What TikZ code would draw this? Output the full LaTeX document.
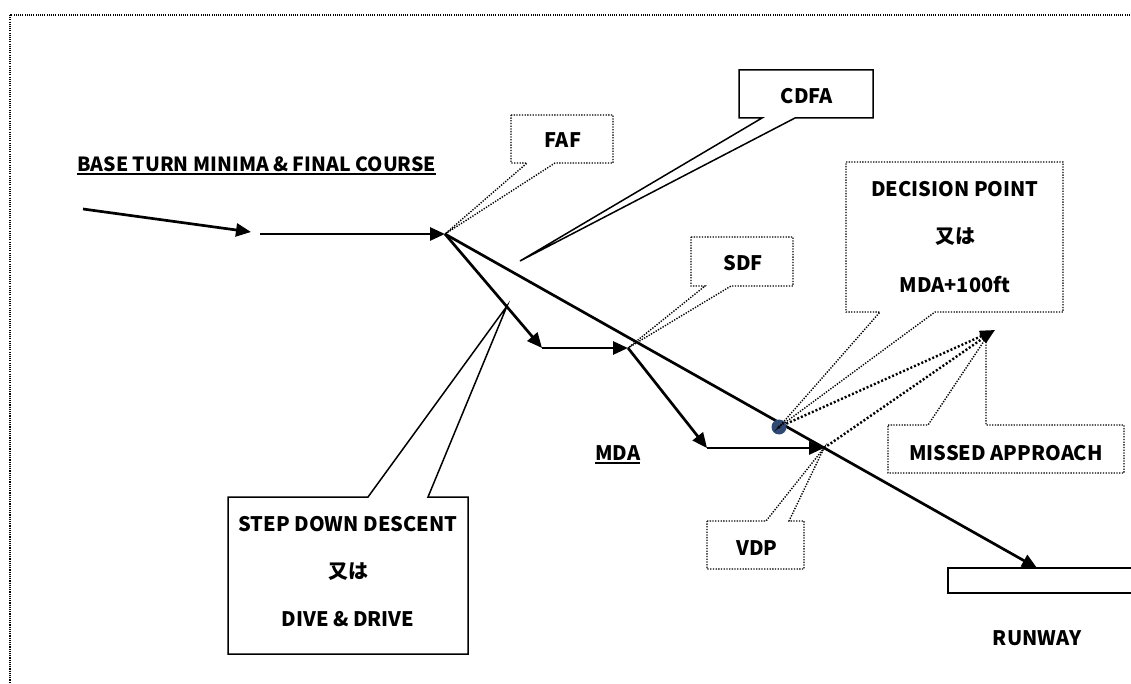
\documentclass[tikz,border=0pt]{standalone}
\usepackage{fontspec}
\setmainfont{Noto Sans CJK JP}
\usetikzlibrary{arrows.meta}
\definecolor{dpblue}{HTML}{2E4A74}

\tikzset{
  lbl/.style={font=\fontsize{20}{24}\selectfont\bfseries, inner sep=0pt},
  track/.style={line width=2.7pt, -{Triangle[length=15pt,width=13pt]}},
  missed/.style={line width=2.4pt, dash pattern=on 2pt off 2pt, -{Triangle[length=15pt,width=11pt]}},
  tag/.style={line width=1.4pt, dash pattern=on 1.3pt off 1.4pt},
  solidtag/.style={line width=1.5pt},
  frame/.style={line width=1.3pt, dash pattern=on 1.1pt off 1.1pt},
  uline/.style={line width=2pt},
}

\begin{document}
\begin{tikzpicture}[x=1pt,y=-1pt]
\useasboundingbox (0,0) rectangle (1131,684);
\draw[frame] (10,15) rectangle (1150,700);

\coordinate (in)   at (83,209);
\coordinate (turn) at (251,232);
\coordinate (leg)  at (260,234);
\coordinate (faf)  at (445,234);
\coordinate (s1)   at (542,348);
\coordinate (sdf)  at (628,348);
\coordinate (s2)   at (707,448);
\coordinate (vdp)  at (824,448);
\coordinate (dp)   at (779,427);
\coordinate (ma)   at (995,330);
\coordinate (td)   at (1037,568);
\coordinate (cdfa) at (520,261);
\coordinate (dive) at (507,306);
\coordinate (matip) at (986,338);

% approach and descent
\path[track]
          (in)   edge (turn)
          (leg)  edge (faf)
          (faf)  edge (s1)
          (s1)   edge (sdf)
          (sdf)  edge (s2)
          (s2)   edge (vdp)
          (faf)  edge (td);
\path[missed]
          (dp)   edge (ma)
          (vdp)  edge (ma);
\fill[dpblue] (dp) circle (7.5pt);
\fill (dp) circle (1.6pt);

\draw[line width=1.6pt] (948,568) rectangle (1150,593);

% callouts
\draw[tag] (511,115) -- (613,115) -- (613,163) -- (555,163) -- (faf) -- (527,163) -- (511,163) -- cycle;
\draw[solidtag] (739,70) -- (873,70) -- (873,118) -- (795,118) -- (cdfa) -- (762,118) -- (739,118) -- cycle;
\draw[tag] (691,237) -- (793,237) -- (793,286) -- (731,286) -- (sdf) -- (705,286) -- (691,286) -- cycle;
\draw[tag] (846,162) -- (1063,162) -- (1063,312) -- (935,312) -- (dp) -- (880,312) -- (846,312) -- cycle;
\draw[tag] (888,425) -- (928,425) -- (matip) -- (986,425) -- (1124,425) -- (1124,473) -- (888,473) -- cycle;
\draw[tag] (707,521) -- (766,521) -- (vdp) -- (789,521) -- (804,521) -- (804,569) -- (707,569) -- cycle;
\draw[solidtag] (228,497) -- (368,497) -- (dive) -- (428,497) -- (468,497) -- (468,654) -- (228,654) -- cycle;

% labels
\node[lbl, anchor=base west, font=\fontsize{19.5}{22}\selectfont\bfseries] (base) at (77,171.5) {BASE TURN MINIMA \& FINAL COURSE};
\draw[uline] ([yshift=-3pt]base.base west) -- ([yshift=-3pt]base.base east);
\node[lbl, anchor=base] (faftxt)  at (563,148) {FAF};
\node[lbl, anchor=base] (cdfatxt) at (807,104) {CDFA};
\node[lbl, anchor=base] (sdftxt)  at (743,271) {SDF};
\node[lbl, anchor=base] (dp1) at (955,197) {DECISION POINT};
\node[lbl, anchor=base] (dp2) at ([yshift=-47pt]dp1.base) {又は};
\node[lbl, anchor=base] (dp3) at ([yshift=-48pt]dp2.base) {MDA+100ft};
\node[lbl, anchor=base west] (mda) at (595,460) {MDA};
\draw[uline] ([yshift=-3pt]mda.base west) -- ([yshift=-3pt]mda.base east);
\node[lbl, anchor=base] (matxt)  at (1006,460) {MISSED APPROACH};
\node[lbl, anchor=base] (vdptxt) at (757,555) {VDP};
\node[lbl, anchor=base] (sd1) at (348,531.5) {STEP DOWN DESCENT};
\node[lbl, anchor=base] (sd2) at ([yshift=-47pt]sd1.base) {又は};
\node[lbl, anchor=base] (sd3) at ([yshift=-48pt]sd2.base) {DIVE \& DRIVE};
\node[lbl, anchor=base] (rwy) at (1037,645) {RUNWAY};
\end{tikzpicture}
\end{document}
